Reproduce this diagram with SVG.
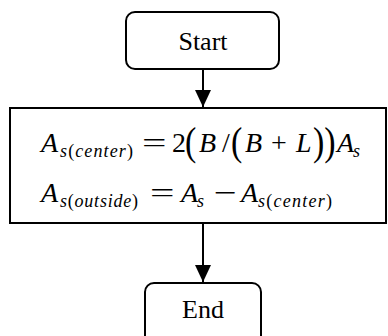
<svg xmlns="http://www.w3.org/2000/svg" width="388" height="336" viewBox="0 0 388 336">
<style>
.box{fill:#fff;stroke:#000;stroke-width:2}
.lbl{font-family:"Liberation Serif",serif;font-size:26px;text-anchor:middle;fill:#000}
.m{font-family:"Liberation Serif",serif;font-size:28px;fill:#000}
.i{font-style:italic}
.sub{font-family:"Liberation Serif",serif;font-size:18px;font-style:italic;fill:#000}
.up{font-style:normal}
.big{font-family:"Liberation Serif",serif;font-size:40px;fill:#000}
.conn{stroke:#000;stroke-width:2;fill:none}
</style>
<defs>
<marker id="ah" markerWidth="18" markerHeight="16" refX="17" refY="8" orient="auto" markerUnits="userSpaceOnUse">
<path d="M0,0 L17,8 L0,16 Z" fill="#000"/>
</marker>
</defs>
<rect width="388" height="336" fill="#fff"/>
<g id="connectors">
<line class="conn" x1="203" y1="69" x2="203" y2="107" marker-end="url(#ah)"/>
<line class="conn" x1="203" y1="223" x2="203" y2="282" marker-end="url(#ah)"/>
</g>
<g id="start">
<rect class="box" x="126" y="12" width="153" height="57" rx="9"/>
<text class="lbl" x="203" y="50">Start</text>
</g>
<g id="process">
<rect class="box" x="10" y="108" width="376" height="115"/>
<text class="m i" x="41" y="152">A</text>
<text class="sub" x="60" y="157" textLength="73" lengthAdjust="spacing">s<tspan class="up">(</tspan>center<tspan class="up">)</tspan></text>
<text class="m" x="142" y="152" transform="translate(142 0) scale(1.55 1) translate(-142 0)">=</text>
<text class="m" x="172" y="152">2</text>
<text class="big" x="185" y="155" transform="translate(185 0) scale(0.85 1) translate(-185 0)">(</text>
<text class="m i" x="199" y="152">B</text>
<text class="m" x="222" y="152">/</text>
<text class="big" x="231" y="155" transform="translate(231 0) scale(0.85 1) translate(-231 0)">(</text>
<text class="m i" x="245" y="152">B</text>
<text class="m" x="271" y="152">+</text>
<text class="m i" x="296" y="152">L</text>
<text class="big" x="313" y="155" transform="translate(313 0) scale(0.85 1) translate(-313 0)">))</text>
<text class="m i" x="337" y="152">A</text>
<text class="sub" x="353" y="157">s</text>
<text class="m i" x="41" y="202">A</text>
<text class="sub" x="60" y="207" textLength="78" lengthAdjust="spacing">s<tspan class="up">(</tspan>outside<tspan class="up">)</tspan></text>
<text class="m" x="150" y="202" transform="translate(150 0) scale(1.55 1) translate(-150 0)">=</text>
<text class="m i" x="181" y="202">A</text>
<text class="sub" x="197" y="207">s</text>
<text class="m" x="214" y="202" transform="translate(214 0) scale(1.45 1) translate(-214 0)">−</text>
<text class="m i" x="241" y="202">A</text>
<text class="sub" x="258" y="207" textLength="74" lengthAdjust="spacing">s<tspan class="up">(</tspan>center<tspan class="up">)</tspan></text>
</g>
<g id="end">
<rect class="box" x="145" y="283" width="116" height="70" rx="9"/>
<text class="lbl" x="203" y="318">End</text>
</g>
</svg>
